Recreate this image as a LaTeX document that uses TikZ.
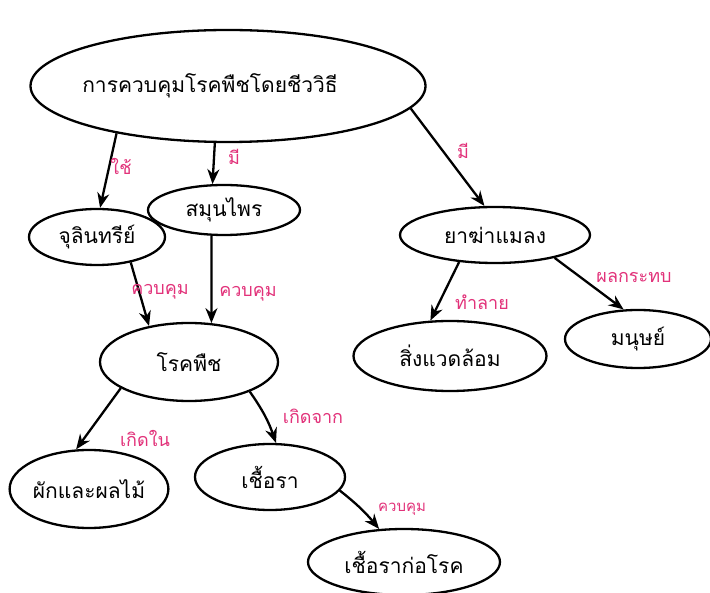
\documentclass[tikz,border=0pt]{standalone}
\usepackage{fontspec}
\newfontfamily\thaifont[Script=Thai]{Loma}
\usetikzlibrary{shapes.geometric,arrows.meta}
\definecolor{pinkink}{RGB}{226,50,122}
\tikzset{
  concept/.style={ellipse,draw=black,line width=2.3pt,inner sep=0pt,
    font=\thaifont\fontsize{21}{25}\selectfont},
  link/.style={line width=2.3pt,-{Stealth[length=15pt,width=12pt]}},
  linklabel/.style={text=pinkink,font=\thaifont\fontsize{18}{21}\selectfont,inner sep=1pt}
}
\begin{document}
\begin{tikzpicture}[x=1pt,y=-1pt]
\useasboundingbox[fill=white] (0,0) rectangle (710,593);

% concepts
\node[concept,minimum width=395pt,minimum height=112pt] (top) at (228,86) {\hspace*{-36pt}การควบคุมโรคพืชโดยชีววิธี};
\node[concept,minimum width=136pt,minimum height=56pt] (micro) at (97,237) {จุลินทรีย์};
\node[concept,minimum width=152pt,minimum height=50pt] (herb) at (224,210) {สมุนไพร};
\node[concept,minimum width=190pt,minimum height=56pt] (insect) at (495,235) {ยาฆ่าแมลง};
\node[concept,minimum width=193pt,minimum height=70pt] (env) at (450,356) {สิ่งแวดล้อม};
\node[concept,minimum width=146pt,minimum height=58pt] (human) at (638,339) {มนุษย์};
\node[concept,minimum width=178pt,minimum height=78pt] (disease) at (189,362) {โรคพืช};
\node[concept,minimum width=155pt,minimum height=78pt] (crop) at (89,489) {ผักและผลไม้};
\node[concept,minimum width=150pt,minimum height=66pt] (fungus) at (270,477) {เชื้อรา};
\node[concept,minimum width=192pt,minimum height=66pt] (pathogen) at (404,562) {เชื้อราก่อโรค};

% links
\draw[link] (top.203) -- (micro.84);
\draw[link] (top.257) -- (herb.114);
\draw[link] (top.353) -- (insect.110);
\draw[link] (micro.323) -- (disease.138);
\draw[link] (herb.244) -- (disease.60);
\draw[link] (insect.217) -- (env.119);
\draw[link] (insect.339) -- (human.116);
\draw[link] (disease.201) -- (crop.108);
\draw[link] (disease.334) to[bend left=8] (fungus.80);
\draw[link] (fungus.349) to[bend left=6] (pathogen.127);

% link labels
\node[linklabel] (use)      at (121,166) {ใช้};
\node[linklabel] (hasherb)  at (234,157) {มี};
\node[linklabel] (hasins)   at (463,151) {มี};
\node[linklabel] (ctrlA)    at (160,292) {ควบคุม};
\node[linklabel] (ctrlB)    at (248,294) {ควบคุม};
\node[linklabel] (destroy)  at (482,302) {ทำลาย};
\node[linklabel] (impact)   at (634,277) {ผลกระทบ};
\node[linklabel] (occurs)   at (145,438) {เกิดใน};
\node[linklabel] (causedby) at (313,416) {เกิดจาก};
\node[linklabel,font=\thaifont\fontsize{15}{18}\selectfont] (ctrlC) at (402,509) {ควบคุม};
\end{tikzpicture}
\end{document}
